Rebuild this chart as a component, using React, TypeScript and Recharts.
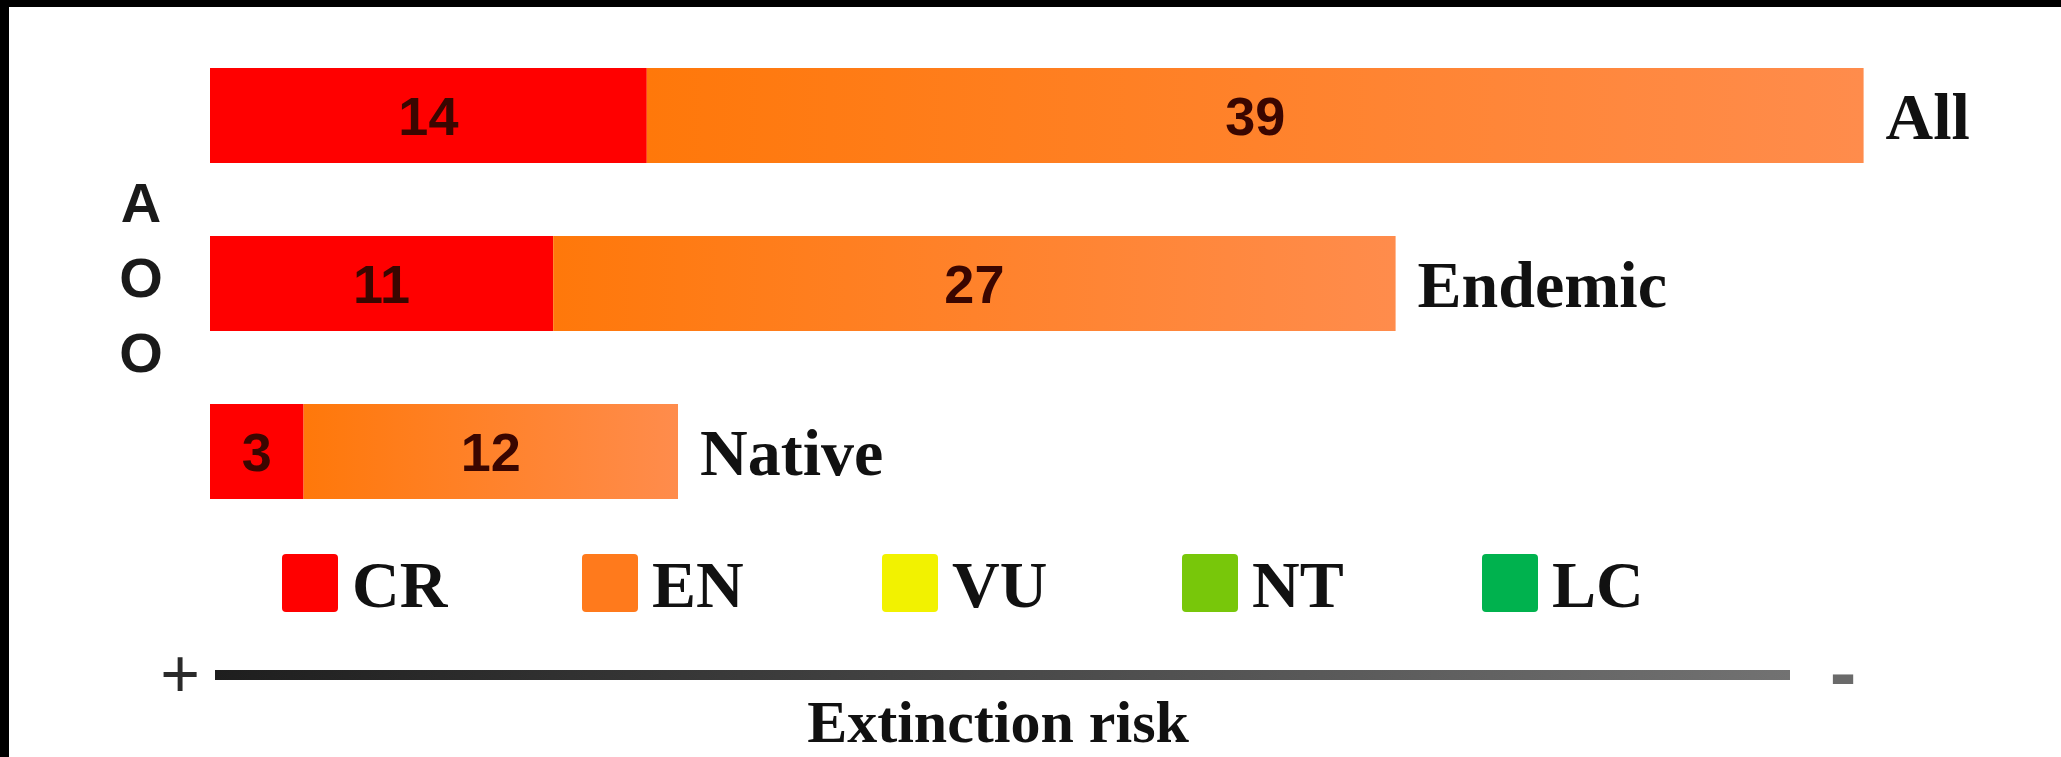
import React from "react";
import { BarChart, Bar, XAxis, YAxis, LabelList, Customized } from "recharts";

// AOO categories and the number of species in each risk class
const categories = ["All", "Endemic", "Native"];
const crValues = [14, 11, 3];
const enValues = [39, 27, 12];

const legendLabels = ["CR", "EN", "VU", "NT", "LC"];
const legendColors = ["#ff0000", "#ff7a1c", "#f2f200", "#78c70a", "#00b24e"];
const yAxisLetters = ["A", "O", "O"];
const xAxisTitle = "Extinction risk";

const data = categories.map((name, i) => ({ name, cr: crValues[i], en: enValues[i] }));

const serif = "'Liberation Serif', 'Times New Roman', serif";
const sans = "'Liberation Sans', Arial, sans-serif";

const Decorations = () => (
    <g>
        {/* vertical AOO label */}
        {yAxisLetters.map((ch, i) => (
            <text key={i} x={141} y={222 + i * 75} textAnchor="middle" fontFamily={sans} fontWeight="bold" fontSize={56} fill="#1a1a1a">
                {ch}
            </text>
        ))}

        {/* legend */}
        {legendLabels.map((lab, i) => (
            <g key={lab}>
                <rect x={282 + i * 300} y={554} width={56} height={58} rx={4} fill={legendColors[i]} />
                <text x={352 + i * 300} y={607} fontFamily={serif} fontWeight="bold" fontSize={66} fill="#111">
                    {lab}
                </text>
            </g>
        ))}

        {/* extinction risk axis */}
        <rect x={215} y={670} width={1575} height={10} fill="url(#axisGrad)" />
        <text x={180} y={697} textAnchor="middle" fontFamily={sans} fontSize={68} fill="#2a2a2a">
            +
        </text>
        <text x={1843} y={700} textAnchor="middle" fontFamily={sans} fontWeight="bold" fontSize={80} fill="#6a6a6a">
            -
        </text>
        <text x={998} y={742} textAnchor="middle" fontFamily={serif} fontWeight="bold" fontSize={60} fill="#111">
            {xAxisTitle}
        </text>
    </g>
);

export default function App() {
    return (
        <div style={{ position: "fixed", left: 0, top: 0, width: 2061, height: 757, background: "#000", overflow: "hidden" }}>
            <div style={{ position: "absolute", left: 9, top: 7, right: 0, bottom: 0, background: "#fff" }} />
            <div style={{ position: "absolute", left: 0, top: 0 }}>
                <BarChart
                    layout="vertical"
                    width={2061}
                    height={757}
                    data={data}
                    margin={{ top: 31, right: 135, bottom: 222, left: 210 }}
                >
                    <defs>
                        <linearGradient id="enGrad" x1="0" y1="0" x2="1" y2="0">
                            <stop offset="0%" stopColor="#ff780a" />
                            <stop offset="100%" stopColor="#ff8c4c" />
                        </linearGradient>
                        <linearGradient id="axisGrad" x1="0" y1="0" x2="1" y2="0">
                            <stop offset="0%" stopColor="#1e1e1e" />
                            <stop offset="100%" stopColor="#727272" />
                        </linearGradient>
                    </defs>
                    <XAxis type="number" domain={[0, 55]} hide />
                    <YAxis type="category" dataKey="name" hide />
                    <Bar dataKey="cr" stackId="a" fill="#ff0000" barSize={95} isAnimationActive={false}>
                        <LabelList dataKey="cr" position="center" fill="#3a0600" fontFamily={sans} fontWeight="bold" fontSize={54} />
                    </Bar>
                    <Bar dataKey="en" stackId="a" fill="url(#enGrad)" barSize={95} isAnimationActive={false}>
                        <LabelList dataKey="en" position="center" fill="#3a0600" fontFamily={sans} fontWeight="bold" fontSize={54} />
                        <LabelList dataKey="name" position="right" offset={22} fill="#111" fontFamily={serif} fontWeight="bold" fontSize={66} />
                    </Bar>
                    <Customized component={Decorations} />
                </BarChart>
            </div>
        </div>
    );
}
